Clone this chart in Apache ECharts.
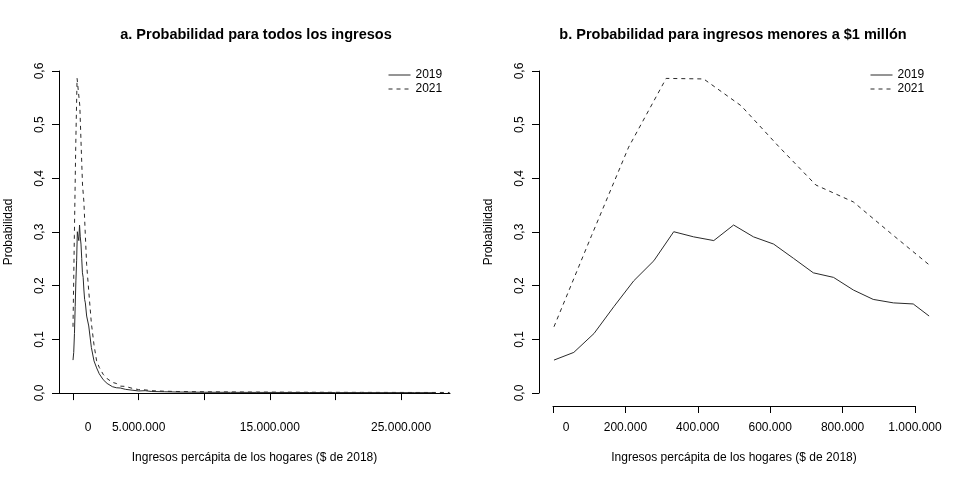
<!DOCTYPE html>
<html>
<head>
<meta charset="utf-8">
<script src="https://cdn.jsdelivr.net/npm/echarts@6/dist/echarts.min.js"></script>
<style>html,body{margin:0;padding:0;background:#fff}#c{width:960px;height:480px}</style>
</head>
<body>
<div id="c"></div>
<script>
// ---- data ----
// incomes below $1 million
var x2019 = [0, 55000, 111000, 166000, 221000, 277000, 332000, 387000, 443000, 498000,
             553000, 609000, 664000, 719000, 775000, 830000, 885000, 941000, 996000, 1040000];
var p2019 = [0.0615, 0.0758, 0.111, 0.161, 0.209, 0.2465, 0.3005, 0.291, 0.284, 0.313,
             0.291, 0.2775, 0.251, 0.224, 0.2155, 0.192, 0.1745, 0.168, 0.166, 0.1435];
var x2021 = [0, 104000, 207000, 311000, 415000, 519000, 622000, 726000, 830000, 933000, 1038000];
var p2021 = [0.1235, 0.293, 0.458, 0.586, 0.585, 0.535, 0.46, 0.3875, 0.356, 0.298, 0.240];
// tails (all incomes)
var tailX2019 = [1200000, 1400000, 1600000, 1800000, 2000000, 2300000, 2600000, 3000000, 3300000, 3600000,
                 4000000, 4500000, 5000000, 5500000, 6000000, 7000000, 8000000, 9000000, 10000000, 12000000,
                 14000000, 16000000, 18000000, 20000000, 22000000, 24000000, 26000000, 27600000];
var tailP2019 = [0.125, 0.085, 0.06, 0.047, 0.036, 0.025, 0.018, 0.012, 0.010, 0.0095,
                 0.007, 0.0055, 0.004, 0.0045, 0.003, 0.0025, 0.002, 0.0018, 0.0016, 0.0014,
                 0.0013, 0.0012, 0.0011, 0.001, 0.001, 0.0009, 0.0009, 0.0008];
var tailX2021 = [1200000, 1400000, 1600000, 1800000, 2000000, 2300000, 2600000, 3000000, 3300000, 3600000,
                 4000000, 4500000, 5000000, 5500000, 6000000, 7000000, 8000000, 9000000, 10000000, 12000000,
                 14000000, 16000000, 18000000, 20000000, 22000000, 24000000, 26000000, 28700000];
var tailP2021 = [0.19, 0.13, 0.09, 0.06, 0.048, 0.035, 0.027, 0.020, 0.018, 0.013,
                 0.0125, 0.009, 0.0065, 0.006, 0.0045, 0.0035, 0.003, 0.0027, 0.0025, 0.0022,
                 0.002, 0.0018, 0.0016, 0.0015, 0.0014, 0.0013, 0.0012, 0.0012];
var leftTicks = [0, 5000000, 10000000, 15000000, 20000000, 25000000];
var leftLabels = [0, 5000000, 15000000, 25000000];
var seriesNames = ['2019', '2021'];
var titleA = 'a. Probabilidad para todos los ingresos';
var titleB = 'b. Probabilidad para ingresos menores a $1 millón';
var xTitle = 'Ingresos percápita de los hogares ($ de 2018)';
var yTitle = 'Probabilidad';

function pairs(xs, ys) { return xs.map(function (x, i) { return [x, ys[i]]; }); }
function fmt(v) { return String(Math.round(v)).replace(/\B(?=(\d{3})+(?!\d))/g, '.'); }
function fmtY(v) { return v.toFixed(1).replace('.', ','); }

var FONT = 'Liberation Sans, Arial, Helvetica, sans-serif';
var INK = '#000';
var LINE = '#2a2a2a';
var txt = { color: INK, fontFamily: FONT, fontSize: 12 };

function yAxisLineAxis(grid) {
  return {
    type: 'value', gridIndex: grid, min: 0, max: 0.6, interval: 0.1,
    name: yTitle, nameLocation: 'middle', nameRotate: 90, nameGap: 44,
    nameTextStyle: txt,
    axisLine: { show: true, lineStyle: { color: INK, width: 1 } },
    axisTick: { show: true, length: 7, lineStyle: { color: INK } },
    axisLabel: Object.assign({ rotate: 90, margin: 13, formatter: fmtY }, txt),
    splitLine: { show: false }
  };
}
function hidden(type, grid, extra) {
  return Object.assign({ type: 'value', gridIndex: grid, show: false, splitLine: { show: false } }, extra || {});
}
function legendAt(left) {
  return { data: seriesNames, orient: 'vertical', left: left, top: 64, itemWidth: 22, itemHeight: 8,
    itemGap: 2, textStyle: txt, selectedMode: false,
    itemStyle: { opacity: 0, borderWidth: 0 },
    lineStyle: { width: 1 } };
}
var titleStyle = { fontFamily: FONT, fontSize: 14.5, fontWeight: 'bold', color: INK };

var chart = echarts.init(document.getElementById('c'), null, { renderer: 'canvas' });
chart.setOption({
  animation: false,
  backgroundColor: '#fff',
  textStyle: { fontFamily: FONT },
  title: [
    { text: titleA, left: 251, top: 22, textAlign: 'center', textStyle: titleStyle },
    { text: titleB, left: 728, top: 22, textAlign: 'center', textStyle: titleStyle }
  ],
  legend: [legendAt(383), legendAt(865)],
  grid: [
    { left: 59, top: 58, width: 391, height: 348 },   // 0 left plot
    { left: 59, top: 71, width: 1, height: 322 },     // 1 left y axis
    { left: 539, top: 58, width: 404, height: 348 },  // 2 right plot
    { left: 539, top: 71, width: 1, height: 322 },    // 3 right y axis
    { left: 553, top: 58, width: 362, height: 348 }   // 4 right x axis
  ],
  xAxis: [
    { type: 'value', gridIndex: 0, min: -1067000, max: 28730000,
      name: xTitle, nameLocation: 'middle', nameGap: 46, nameTextStyle: txt,
      axisLine: { show: true, lineStyle: { color: INK, width: 1 } },
      axisTick: { show: true, length: 7, customValues: leftTicks, lineStyle: { color: INK } },
      axisLabel: Object.assign({ customValues: leftLabels, margin: 16,
        formatter: function (v) { return v === 0 ? '{z|0}' : fmt(v); },
        rich: { z: Object.assign({ padding: [0, 0, 0, 30] }, txt) } }, txt),
      splitLine: { show: false } },
    hidden('value', 1),
    hidden('value', 2, { min: -41500, max: 1078500 }),
    hidden('value', 3),
    { type: 'value', gridIndex: 4, min: 0, max: 1000000, interval: 200000,
      name: xTitle, nameLocation: 'middle', nameGap: 46, nameTextStyle: txt,
      axisLine: { show: true, lineStyle: { color: INK, width: 1 } },
      axisTick: { show: true, length: 7, lineStyle: { color: INK } },
      axisLabel: Object.assign({ margin: 16,
        formatter: function (v) { return v === 0 ? '{z|0}' : fmt(v); },
        rich: { z: Object.assign({ padding: [0, 0, 0, 26] }, txt) } }, txt),
      splitLine: { show: false } }
  ],
  yAxis: [
    hidden('value', 0, { min: -0.024, max: 0.624 }),
    yAxisLineAxis(1),
    hidden('value', 2, { min: -0.024, max: 0.624 }),
    yAxisLineAxis(3),
    hidden('value', 4)
  ],
  series: [
    { name: seriesNames[0], type: 'line', xAxisIndex: 0, yAxisIndex: 0, symbol: 'none',
      lineStyle: { color: LINE, width: 1, type: 'solid' }, itemStyle: { color: LINE },
      data: pairs(x2019.concat(tailX2019), p2019.concat(tailP2019)) },
    { name: seriesNames[1], type: 'line', xAxisIndex: 0, yAxisIndex: 0, symbol: 'none',
      lineStyle: { color: LINE, width: 1, type: [4, 4] }, itemStyle: { color: LINE },
      data: pairs(x2021.concat(tailX2021), p2021.concat(tailP2021)) },
    { name: seriesNames[0], type: 'line', xAxisIndex: 2, yAxisIndex: 2, symbol: 'none',
      lineStyle: { color: LINE, width: 1, type: 'solid' }, itemStyle: { color: LINE },
      data: pairs(x2019, p2019) },
    { name: seriesNames[1], type: 'line', xAxisIndex: 2, yAxisIndex: 2, symbol: 'none',
      lineStyle: { color: LINE, width: 1, type: [4, 4] }, itemStyle: { color: LINE },
      data: pairs(x2021, p2021) }
  ]
});
</script>
</body>
</html>
